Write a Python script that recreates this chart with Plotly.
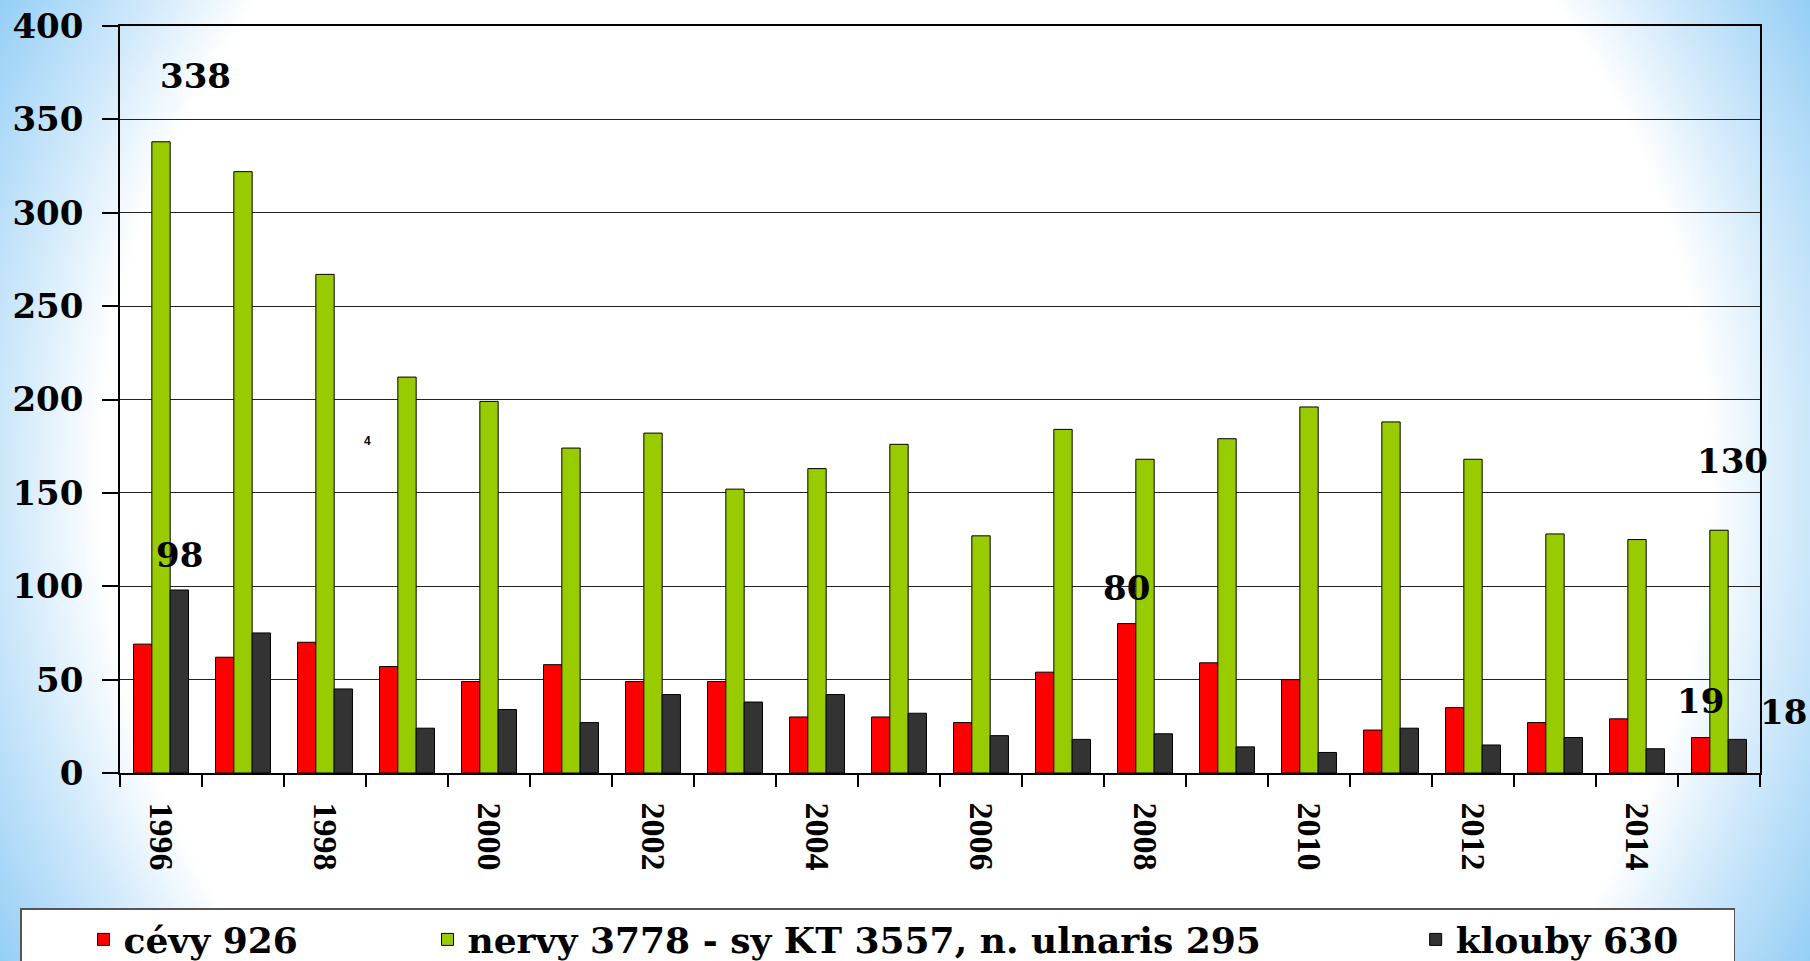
import base64
import plotly.graph_objects as go

# ---- data ----
years = list(range(1996, 2016))
cevy = [69, 62, 70, 57, 49, 58, 49, 49, 30, 30, 27, 54, 80, 59, 50, 23, 35, 27, 29, 19]
nervy = [338, 322, 267, 212, 199, 174, 182, 152, 163, 176, 127, 184, 168, 179, 196, 188, 168, 128, 125, 130]
klouby = [98, 75, 45, 24, 34, 27, 42, 38, 42, 32, 20, 18, 21, 14, 11, 24, 15, 19, 13, 18]

series_names = ["cévy 926", "nervy 3778 - sy KT 3557, n. ulnaris 295", "klouby 630"]
series_colors = ["#FF0000", "#99CC00", "#333333"]
x_tick_years = [1996, 1998, 2000, 2002, 2004, 2006, 2008, 2010, 2012, 2014]
y_ticks = [0, 50, 100, 150, 200, 250, 300, 350, 400]

NB = "\u00a0"
legend_pad = [NB * 5, NB * 7, NB * 4]

W, H = 1810, 961
ML, MR, MT, MB = 120, 50, 26, 188
PW, PH = W - ML - MR, H - MT - MB

SERIF = "DejaVu Serif"

fig = go.Figure()
for vals, name, col, pad in zip([cevy, nervy, klouby], series_names, series_colors, legend_pad):
    fig.add_trace(go.Bar(
        x=years, y=vals, name=name + pad,
        marker=dict(color=col, line=dict(color="#000000", width=1)),
    ))

# ---- value labels (text from data, positioned relative to the bars) ----
lab_font = dict(family=SERIF, size=34, color="black", weight="bold")
labels = [
    (years[0], nervy[0], str(nervy[0]), 34, 66),
    (years[0], klouby[0], str(klouby[0]), 18, 35),
    (years[12], cevy[12], str(cevy[12]), -19, 36),
    (years[19], nervy[19], str(nervy[19]), 13, 69),
    (years[19], cevy[19], str(cevy[19]), -19, 37),
    (years[19], klouby[19], str(klouby[19]), 64, 27),
]
for x, y, t, dx, dy in labels:
    fig.add_annotation(x=x, y=y, xref="x", yref="y", text=t, showarrow=False,
                       xanchor="center", yanchor="middle", xshift=dx, yshift=dy,
                       font=lab_font)
# stray small mark in the original
fig.add_annotation(x=1998.52, y=177.8, xref="x", yref="y", text="4", showarrow=False,
                   xanchor="center", yanchor="middle",
                   font=dict(family="Liberation Sans", size=12, color="black", weight="bold"))

# ---- background gradient (white centre, light blue corners) ----
svg = (
    f'<svg xmlns="http://www.w3.org/2000/svg" width="{W}" height="{H}" viewBox="0 0 {W} {H}" '
    'preserveAspectRatio="none"><defs>'
    f'<radialGradient id="g" gradientUnits="userSpaceOnUse" cx="{W/2}" cy="{H/2}" r="1030">'
    '<stop offset="0" stop-color="#ffffff"/>'
    '<stop offset="0.78" stop-color="#ffffff"/>'
    '<stop offset="0.87" stop-color="#d0e9fb"/>'
    '<stop offset="1" stop-color="#92cdf5"/>'
    '</radialGradient></defs>'
    f'<rect width="{W}" height="{H}" fill="url(#g)"/></svg>'
)
src = "data:image/svg+xml;base64," + base64.b64encode(svg.encode()).decode()
fig.add_layout_image(dict(
    source=src, xref="paper", yref="paper",
    x=-ML / PW, y=1 + MT / PH, sizex=W / PW, sizey=H / PH,
    xanchor="left", yanchor="top", sizing="stretch", layer="below",
))

fig.update_layout(
    width=W, height=H,
    margin=dict(l=ML, r=MR, t=MT, b=MB, autoexpand=False),
    paper_bgcolor="white",
    plot_bgcolor="rgba(0,0,0,0)",
    barmode="group", bargap=0.33, bargroupgap=0,
    showlegend=True,
    legend=dict(
        orientation="h", x=(20 - ML) / PW, y=(MT + PH - 908) / PH,
        xanchor="left", yanchor="top",
        bgcolor="white", bordercolor="#555555", borderwidth=1.5,
        font=dict(family=SERIF, size=36, color="black", weight="bold"),
        indentation=62, traceorder="normal",
    ),
    font=dict(family=SERIF, color="black"),
)

fig.update_xaxes(
    type="linear", range=[years[0] - 0.5, years[-1] + 0.5],
    tickmode="array", tickvals=x_tick_years, ticktext=[str(y) for y in x_tick_years],
    tickangle=90, ticks="", ticklabelstandoff=21,
    tickfont=dict(family="Liberation Serif", size=34, color="black", weight="bold"),
    minor=dict(tickmode="array", tickvals=[y - 0.5 for y in years] + [years[-1] + 0.5],
               ticks="outside", ticklen=12, tickwidth=1.5, tickcolor="black", showgrid=False),
    showline=True, linecolor="black", linewidth=1.5, mirror=True,
    showgrid=False, zeroline=False,
)
fig.update_yaxes(
    range=[0, 400], tickmode="array", tickvals=y_ticks, ticktext=[str(v) for v in y_ticks],
    ticks="outside", ticklen=16, tickwidth=1.5, tickcolor="black", ticklabelstandoff=12,
    tickfont=dict(family=SERIF, size=34, color="black", weight="bold"),
    showgrid=True, gridcolor="#222222", gridwidth=1,
    showline=True, linecolor="black", linewidth=1.5, mirror=True, zeroline=False,
)

fig.write_html(
    "out.html",
    config={"displayModeBar": False},
    post_script="document.body.style.margin='0';document.body.style.overflow='hidden';",
)
